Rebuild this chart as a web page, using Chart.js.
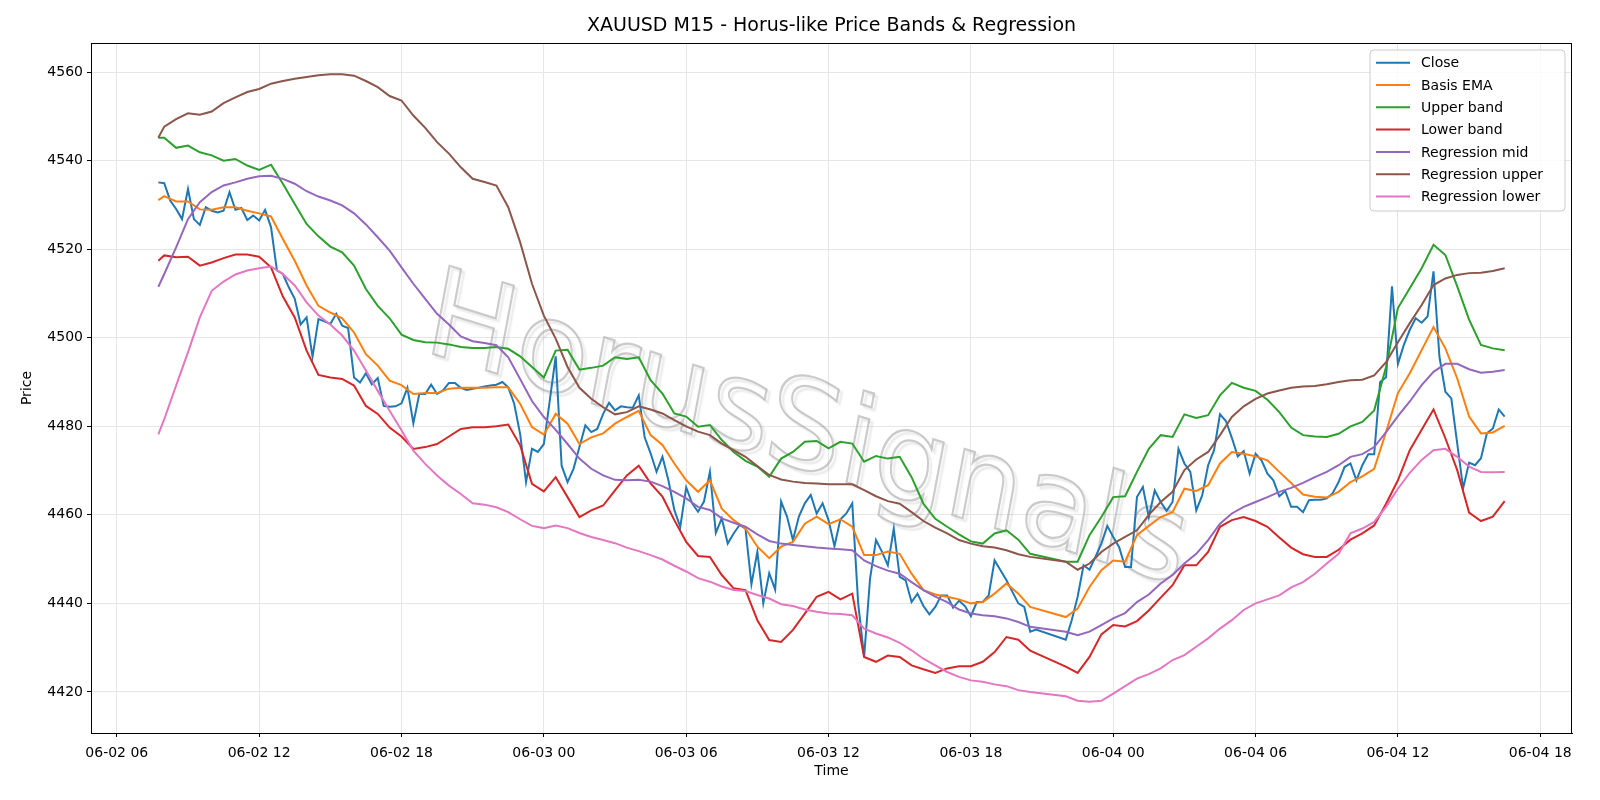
<!DOCTYPE html>
<html>
<head>
<meta charset="utf-8">
<title>XAUUSD M15 - Horus-like Price Bands & Regression</title>
<script src="https://cdn.jsdelivr.net/npm/chart.js@4.4.1/dist/chart.umd.min.js"></script>
<style>
  html, body { margin: 0; padding: 0; background: #ffffff; }
  #wrap { width: 1600px; height: 800px; }
</style>
</head>
<body>
<div id="wrap"><canvas id="priceChart" width="1600" height="800"></canvas></div>
<script>
// ============================
// Data (hours counted from 06-02 00:00)
// ============================

const closeStartHour = 7.75;   // 06-02 07:45, one bar every 15 min
const closeStepHours = 0.25;

// Close, 15-min bars (null = market break)
const closeValues = [
  4535.1, 4534.9, 4531.0, 4529.1, 4526.8, 4533.6, 4526.8, 4525.5,
  4529.5, 4528.7, 4528.3, 4528.7, 4532.9, 4528.9, 4529.3, 4526.6,
  4527.6, 4526.5, 4528.9, 4525.0, 4515.2, 4514.4, 4511.4, 4508.8,
  4503.0, 4504.6, 4495.7, 4504.2, 4503.7, 4503.1, 4505.4, 4502.7,
  4502.2, 4491.0, 4489.9, 4492.0, 4489.5, 4490.9, 4484.6, 4484.4,
  4484.5, 4485.2, 4488.7, 4480.7, 4487.3, 4487.3, 4489.4, 4487.3,
  4488.1, 4489.8, 4489.8, 4488.7, 4488.2, 4488.5, 4488.7, 4489.0,
  4489.2, 4489.4, 4490.0, 4488.8, 4485.1, 4478.3, 4467.4, 4474.9,
  4474.2, 4476.0, 4485.8, 4495.8, 4471.1, 4467.4, 4470.4, 4475.3,
  4480.2, 4478.7, 4479.4, 4482.8, 4485.3, 4483.6, 4484.5, 4484.3,
  4484.2, 4487.0, 4477.5, 4473.9, 4469.7, 4473.1, 4467.8, 4461.1,
  4457.3, 4466.2, 4462.6, 4460.7, 4463.0, 4469.7, 4455.9, 4459.2,
  4453.5, 4455.8, 4457.7, 4456.9, 4444.3, 4451.7, 4440.0, 4446.8,
  4443.1, 4463.0, 4459.6, 4454.3, 4459.6, 4462.6, 4464.5, 4460.3,
  4462.6, 4458.8, 4452.9, 4459.0, 4460.3, 4462.6, 4440.0, 4427.9,
  4445.6, 4454.3, 4451.7, 4448.6, 4456.9, 4446.0, 4445.2, 4440.3,
  4442.2, 4439.4, 4437.5, 4439.2, 4441.8, 4441.8, 4439.0, 4440.6,
  4439.4, 4437.1, 4440.3, 4440.3, 4441.8, 4449.7, 4447.5, 4445.2,
  4442.6, 4440.0, 4439.2, 4433.6, 4434.1, null, null, null,
  null, 4431.8, 4436.2, 4441.5, 4448.6, 4447.6, 4450.5, 4453.5,
  4457.5, 4455.0, 4452.7, 4448.2, 4448.2, 4464.0, 4466.3, 4459.5,
  4465.5, 4462.9, 4460.9, 4462.9, 4474.9, 4471.6, 4469.7, 4461.0,
  4464.4, 4471.2, 4474.6, 4482.7, 4481.2, 4477.4, 4473.2, 4474.4,
  4469.3, 4473.8, 4472.3, 4469.3, 4467.8, 4464.2, 4465.4, 4461.8,
  4461.8, 4460.6, 4463.3, 4463.4, 4463.4, 4463.7, 4464.9, 4467.4,
  4470.8, 4471.6, 4467.8, 4471.2, 4473.7, 4473.7, 4490.0, 4491.1,
  4511.6, 4494.1, 4498.4, 4501.8, 4504.4, 4503.4, 4504.8, 4515.0,
  4495.7, 4487.8, 4486.3, 4476.1, 4466.0, 4471.8, 4471.2, 4472.8,
  4478.4, 4479.5, 4483.8, 4482.2
];

// Band / regression series are read every 30 min: 07:45, 08:00, 08:30 ... 06-04 16:30
const bandFirstHour = 7.75;
const bandGridStart = 8.0;
const bandGridStep = 0.5;

const basisEma = [
  4531.1, 4532.0, 4530.8, 4530.8, 4529.0, 4528.9, 4529.5, 4529.5, 4528.7, 4528.1,
  4527.4, 4522.3, 4517.4, 4511.8, 4507.2, 4505.7, 4504.4, 4501.2, 4496.3, 4493.7,
  4490.3, 4489.3, 4487.3, 4487.5, 4487.5, 4488.5, 4488.7, 4488.7, 4488.7, 4488.8,
  4488.8, 4485.1, 4479.8, 4478.1, 4482.8, 4480.6, 4476.0, 4477.5, 4478.4, 4480.6,
  4482.1, 4483.5, 4478.0, 4475.8, 4471.6, 4467.8, 4465.2, 4467.8, 4461.4, 4458.8,
  4456.9, 4452.8, 4450.2, 4452.8, 4453.9, 4458.0, 4459.6, 4457.9, 4459.0, 4457.3,
  4450.9, 4450.9, 4451.7, 4451.2, 4446.7, 4443.0, 4442.0, 4441.5, 4440.9, 4440.0,
  4440.3, 4442.2, 4444.5, 4442.2, 4439.2, null, null, 4436.9, 4438.8, 4443.7,
  4447.5, 4449.7, 4449.4, 4455.4, 4457.5, 4459.5, 4460.6, 4465.9, 4465.4, 4466.7,
  4471.6, 4474.2, 4473.8, 4473.2, 4472.3, 4469.7, 4467.2, 4464.6, 4464.1, 4463.9,
  4465.2, 4467.4, 4468.7, 4470.4, 4478.7, 4487.5, 4492.0, 4497.2, 4502.4, 4497.6,
  4490.8, 4482.2, 4478.4, 4478.6, 4480.1
];

const upperBand = [
  4545.2, 4545.2, 4542.9, 4543.4, 4541.9, 4541.2, 4540.0, 4540.4, 4538.9, 4537.9,
  4539.1, 4534.8, 4530.2, 4525.7, 4522.9, 4520.6, 4519.3, 4516.3, 4511.0, 4507.2,
  4504.4, 4500.7, 4499.5, 4499.0, 4498.9, 4498.5, 4497.9, 4497.7, 4497.7, 4497.9,
  4497.5, 4495.8, 4493.4, 4491.0, 4497.1, 4497.3, 4492.8, 4493.2, 4493.7, 4495.6,
  4495.2, 4495.6, 4490.4, 4487.4, 4482.9, 4482.2, 4479.9, 4480.3, 4476.9, 4474.2,
  4472.2, 4470.9, 4468.6, 4472.7, 4474.2, 4476.5, 4476.7, 4475.0, 4476.5, 4476.1,
  4472.0, 4473.3, 4472.7, 4473.1, 4468.5, 4462.5, 4459.1, 4457.3, 4455.6, 4454.0,
  4453.5, 4455.8, 4456.5, 4454.4, 4451.2, null, null, 4449.4, 4449.4, 4455.4,
  4459.5, 4464.0, 4464.2, 4469.7, 4474.9, 4478.0, 4477.6, 4482.7, 4481.9, 4482.5,
  4487.0, 4489.8, 4488.7, 4488.0, 4486.0, 4483.2, 4479.7, 4478.0, 4477.7, 4477.6,
  4478.3, 4480.0, 4481.0, 4483.6, 4493.4, 4506.7, 4511.2, 4515.7, 4521.0, 4518.7,
  4511.6, 4504.1, 4498.4, 4497.6, 4497.2
];

const lowerBand = [
  4517.4, 4518.6, 4518.2, 4518.3, 4516.3, 4517.0, 4518.0, 4518.8, 4518.8, 4518.3,
  4515.9, 4509.3, 4504.6, 4497.1, 4491.6, 4491.0, 4490.7, 4489.2, 4484.6, 4482.8,
  4479.7, 4477.7, 4474.9, 4475.3, 4476.0, 4477.7, 4479.4, 4479.8, 4479.8, 4480.0,
  4480.4, 4475.7, 4467.0, 4465.3, 4468.5, 4464.0, 4459.5, 4461.0, 4462.1, 4465.5,
  4468.9, 4471.1, 4467.1, 4464.1, 4458.8, 4453.9, 4450.7, 4450.5, 4446.4, 4443.4,
  4443.0, 4436.2, 4431.7, 4431.3, 4434.0, 4437.7, 4441.5, 4442.6, 4440.9, 4442.2,
  4427.9, 4426.8, 4428.2, 4427.9, 4426.0, 4425.1, 4424.3, 4425.3, 4425.8, 4425.8,
  4426.8, 4429.0, 4432.4, 4431.8, 4429.3, null, null, 4425.7, 4424.3, 4427.9,
  4433.0, 4435.1, 4434.8, 4436.0, 4438.4, 4441.3, 4444.1, 4448.6, 4448.6, 4451.6,
  4457.3, 4458.8, 4459.5, 4458.6, 4457.3, 4454.9, 4452.6, 4451.1, 4450.5, 4450.5,
  4452.1, 4454.4, 4455.8, 4457.6, 4462.5, 4467.8, 4474.6, 4479.2, 4483.8, 4477.3,
  4470.1, 4460.5, 4458.6, 4459.6, 4463.1
];

const regressionMid = [
  4511.5, 4514.4, 4520.4, 4526.8, 4530.6, 4532.9, 4534.4, 4535.1, 4535.9, 4536.5,
  4536.6, 4535.9, 4534.8, 4533.1, 4531.9, 4531.0, 4529.9, 4528.1, 4525.6, 4522.7,
  4519.7, 4515.9, 4512.2, 4508.8, 4505.4, 4503.0, 4500.3, 4499.2, 4498.8, 4498.3,
  4495.6, 4490.7, 4485.7, 4482.1, 4479.2, 4476.0, 4472.7, 4470.4, 4468.9, 4467.9,
  4467.8, 4467.9, 4467.5, 4466.5, 4465.2, 4463.7, 4461.8, 4461.1, 4459.2, 4458.2,
  4457.3, 4455.6, 4454.1, 4453.5, 4453.2, 4452.9, 4452.6, 4452.4, 4452.2, 4452.0,
  4449.7, 4448.4, 4447.4, 4446.7, 4444.8, 4443.0, 4441.5, 4440.3, 4438.6, 4437.7,
  4437.3, 4437.1, 4436.6, 4435.8, 4434.7, null, null, 4433.6, 4432.8, 4433.6,
  4435.1, 4436.6, 4437.8, 4440.3, 4442.0, 4444.5, 4446.4, 4449.0, 4451.2, 4454.3,
  4458.0, 4460.3, 4461.8, 4462.9, 4464.0, 4465.2, 4466.1, 4467.2, 4468.5, 4469.7,
  4471.2, 4473.1, 4473.7, 4475.3, 4478.7, 4482.3, 4485.6, 4489.3, 4492.3, 4494.1,
  4494.1, 4492.9, 4492.1, 4492.3, 4492.7
];

const regressionUpper = [
  4545.2, 4547.7, 4549.4, 4550.7, 4550.4, 4551.1, 4553.0, 4554.3, 4555.5, 4556.2,
  4557.4, 4558.0, 4558.5, 4558.9, 4559.3, 4559.5, 4559.5, 4559.2, 4558.0, 4556.6,
  4554.6, 4553.6, 4550.2, 4547.4, 4544.2, 4541.6, 4538.5, 4535.9, 4535.2, 4534.4,
  4529.5, 4521.6, 4512.2, 4505.0, 4499.8, 4493.4, 4488.7, 4486.2, 4484.3, 4482.7,
  4483.2, 4484.5, 4483.8, 4482.9, 4481.4, 4480.0, 4478.8, 4478.0, 4476.1, 4474.6,
  4473.1, 4471.0, 4469.0, 4468.0, 4467.5, 4467.2, 4467.1, 4466.9, 4466.9, 4466.9,
  4465.6, 4464.2, 4463.1, 4462.5, 4460.6, 4458.6, 4457.1, 4455.8, 4454.3, 4453.5,
  4452.9, 4452.6, 4452.0, 4451.1, 4450.5, null, null, 4449.4, 4447.6, 4449.0,
  4451.6, 4453.5, 4455.0, 4456.5, 4460.0, 4462.9, 4465.2, 4470.1, 4472.5, 4474.2,
  4478.0, 4482.1, 4484.5, 4486.2, 4487.4, 4488.1, 4488.7, 4489.0, 4489.1, 4489.5,
  4490.0, 4490.4, 4490.5, 4491.5, 4494.5, 4499.0, 4503.3, 4507.4, 4511.9, 4513.4,
  4514.2, 4514.6, 4514.7, 4515.1, 4515.7
];

const regressionLower = [
  4478.2, 4481.6, 4489.2, 4496.7, 4504.6, 4510.6, 4512.7, 4514.3, 4515.2, 4515.7,
  4516.1, 4514.4, 4511.8, 4508.0, 4505.0, 4503.0, 4500.5, 4497.1, 4492.6, 4488.0,
  4483.5, 4479.1, 4474.5, 4471.5, 4468.9, 4466.6, 4464.7, 4462.6, 4462.3, 4461.7,
  4460.6, 4459.0, 4457.5, 4457.0, 4457.6, 4457.0, 4455.9, 4455.0, 4454.3, 4453.6,
  4452.6, 4451.8, 4450.9, 4449.9, 4448.5, 4447.2, 4445.7, 4444.9, 4443.8, 4443.0,
  4442.8, 4441.9, 4441.1, 4439.8, 4439.4, 4438.6, 4438.1, 4437.7, 4437.6, 4437.3,
  4434.3, 4433.2, 4432.3, 4431.1, 4429.4, 4427.5, 4426.0, 4424.5, 4423.4, 4422.6,
  4422.3, 4421.7, 4421.3, 4420.4, 4420.0, null, null, 4419.0, 4418.0, 4417.8,
  4418.0, 4419.6, 4421.3, 4423.0, 4424.0, 4425.3, 4427.2, 4428.3, 4430.2, 4432.1,
  4434.3, 4436.2, 4438.5, 4440.0, 4440.9, 4441.8, 4443.6, 4444.8, 4446.7, 4449.0,
  4451.2, 4455.8, 4456.9, 4458.4, 4461.8, 4465.9, 4469.5, 4472.4, 4474.6, 4474.9,
  4473.1, 4470.9, 4469.7, 4469.6, 4469.7
];

// Axis ticks
const timeTickHours = [6, 12, 18, 24, 30, 36, 42, 48, 54, 60, 66];
const timeTickLabels = [
  "06-02 06", "06-02 12", "06-02 18", "06-03 00", "06-03 06", "06-03 12",
  "06-03 18", "06-04 00", "06-04 06", "06-04 12", "06-04 18"
];
const priceTicks = [4420, 4440, 4460, 4480, 4500, 4520, 4540, 4560];

const seriesNames = [
  "Close", "Basis EMA", "Upper band", "Lower band",
  "Regression mid", "Regression upper", "Regression lower"
];
const seriesColors = [
  "#1f77b4", "#ff7f0e", "#2ca02c", "#d62728", "#9467bd", "#8c564b", "#e377c2"
];

const chartTitle = "XAUUSD M15 - Horus-like Price Bands & Regression";
const watermarkText = "HorusSignals";
const FONT = "'DejaVu Sans', 'Liberation Sans', sans-serif";


// ============================
// Build points
// ============================

const closeHours = closeValues.map((v, i) => closeStartHour + i * closeStepHours);

const bandHours = [bandFirstHour];
for (let i = 0; i < basisEma.length - 1; i++) {
  bandHours.push(bandGridStart + i * bandGridStep);
}

function toPoints(hours, values) {
  return values.map((v, i) => ({ x: hours[i], y: v }));
}

const seriesPoints = [
  toPoints(closeHours, closeValues),
  toPoints(bandHours, basisEma),
  toPoints(bandHours, upperBand),
  toPoints(bandHours, lowerBand),
  toPoints(bandHours, regressionMid),
  toPoints(bandHours, regressionUpper),
  toPoints(bandHours, regressionLower)
];

// matplotlib style 5% margins
const xFirst = closeHours[0];
const xLast = closeHours[closeHours.length - 1];
const xPad = (xLast - xFirst) * 0.05;

let yMin = Infinity, yMax = -Infinity;
seriesPoints.forEach(pts => pts.forEach(p => {
  if (p.y === null) return;
  if (p.y < yMin) yMin = p.y;
  if (p.y > yMax) yMax = p.y;
}));
const yPad = (yMax - yMin) * 0.05;


// ============================
// Plugins: watermark, frame + texts, legend
// ============================

const watermarkPlugin = {
  id: "watermark",
  beforeDatasetsDraw(chart) {
    const ctx = chart.ctx;
    const area = chart.chartArea;
    ctx.save();
    ctx.beginPath();
    ctx.rect(area.left, area.top, area.right - area.left, area.bottom - area.top);
    ctx.clip();

    ctx.font = "italic 128px " + FONT;
    const w = ctx.measureText(watermarkText).width;
    const sx = 755 / w;
    // sheared baseline: letters stay upright while the word runs down-right
    ctx.transform(sx, 0.31 * sx, 0, 1, 430, 353);
    ctx.textAlign = "left";
    ctx.textBaseline = "alphabetic";

    // hollow letters with a soft drop shadow
    ctx.shadowColor = "rgba(0,0,0,0.18)";
    ctx.shadowOffsetX = 3;
    ctx.shadowOffsetY = 3;
    ctx.shadowBlur = 2;
    ctx.lineWidth = 2.2;
    ctx.strokeStyle = "rgba(160,160,160,0.55)";
    ctx.strokeText(watermarkText, 0, 0);
    ctx.restore();
  }
};

const framePlugin = {
  id: "frame",
  afterDraw(chart) {
    const ctx = chart.ctx;
    const area = chart.chartArea;
    ctx.save();

    ctx.strokeStyle = "#000";
    ctx.lineWidth = 1;
    ctx.strokeRect(area.left + 0.5, area.top + 0.5, area.right - area.left - 1, area.bottom - area.top);

    ctx.fillStyle = "#000";
    ctx.textAlign = "center";
    ctx.textBaseline = "middle";

    ctx.font = "19px " + FONT;
    ctx.fillText(chartTitle, (area.left + area.right) / 2, 26);

    ctx.font = "14px " + FONT;
    ctx.fillText("Time", (area.left + area.right) / 2, 771);

    ctx.translate(27, (area.top + area.bottom) / 2);
    ctx.rotate(-Math.PI / 2);
    ctx.fillText("Price", 0, 0);

    ctx.restore();
  }
};

const legendPlugin = {
  id: "boxLegend",
  afterDraw(chart) {
    const ctx = chart.ctx;
    const x = 1370, y = 50, w = 195, h = 161, r = 4;
    ctx.save();
    ctx.beginPath();
    ctx.moveTo(x + r, y);
    ctx.arcTo(x + w, y, x + w, y + h, r);
    ctx.arcTo(x + w, y + h, x, y + h, r);
    ctx.arcTo(x, y + h, x, y, r);
    ctx.arcTo(x, y, x + w, y, r);
    ctx.closePath();
    ctx.fillStyle = "rgba(255,255,255,0.8)";
    ctx.fill();
    ctx.strokeStyle = "#cccccc";
    ctx.lineWidth = 1;
    ctx.stroke();

    ctx.font = "14px " + FONT;
    ctx.textAlign = "left";
    ctx.textBaseline = "middle";
    seriesNames.forEach((name, i) => {
      const ly = 62.7 + i * 22.3;
      ctx.strokeStyle = seriesColors[i];
      ctx.lineWidth = 2;
      ctx.beginPath();
      ctx.moveTo(1376, ly);
      ctx.lineTo(1410, ly);
      ctx.stroke();
      ctx.fillStyle = "#000";
      ctx.fillText(name, 1421, ly + 1);
    });
    ctx.restore();
  }
};


// ============================
// Chart
// ============================

const datasets = seriesNames.map((name, i) => ({
  label: name,
  data: seriesPoints[i],
  borderColor: seriesColors[i],
  backgroundColor: seriesColors[i],
  borderWidth: 2,
  pointRadius: 0,
  tension: 0,
  spanGaps: true,
  fill: false,
  order: seriesNames.length - i
}));

const priceChart = new Chart(document.getElementById("priceChart"), {
  type: "line",
  data: { datasets: datasets },
  options: {
    responsive: false,
    devicePixelRatio: 1,
    animation: false,
    layout: { padding: { top: 43, right: 28, left: 0, bottom: 0 } },
    plugins: {
      legend: { display: false },
      title: { display: false },
      tooltip: { enabled: false }
    },
    scales: {
      x: {
        type: "linear",
        min: xFirst - xPad,
        max: xLast + xPad,
        afterFit(scale) { scale.height = 67; },
        afterBuildTicks(scale) { scale.ticks = timeTickHours.map(v => ({ value: v })); },
        grid: { color: "#e6e6e6", lineWidth: 1, tickColor: "#000", tickLength: 4, tickWidth: 1 },
        border: { display: true, color: "#000", width: 1 },
        ticks: {
          autoSkip: false,
          maxRotation: 0,
          padding: 8,
          color: "#000",
          font: { family: FONT, size: 14 },
          callback: (v) => timeTickLabels[timeTickHours.indexOf(v)] || ""
        }
      },
      y: {
        type: "linear",
        min: yMin - yPad,
        max: yMax + yPad,
        afterFit(scale) { scale.width = 91; },
        afterBuildTicks(scale) { scale.ticks = priceTicks.map(v => ({ value: v })); },
        grid: { color: "#e6e6e6", lineWidth: 1, tickColor: "#000", tickLength: 4, tickWidth: 1 },
        border: { display: true, color: "#000", width: 1 },
        ticks: {
          padding: 4,
          color: "#000",
          font: { family: FONT, size: 14 },
          callback: (v) => String(v)
        }
      }
    }
  },
  plugins: [watermarkPlugin, framePlugin, legendPlugin]
});
</script>
</body>
</html>
